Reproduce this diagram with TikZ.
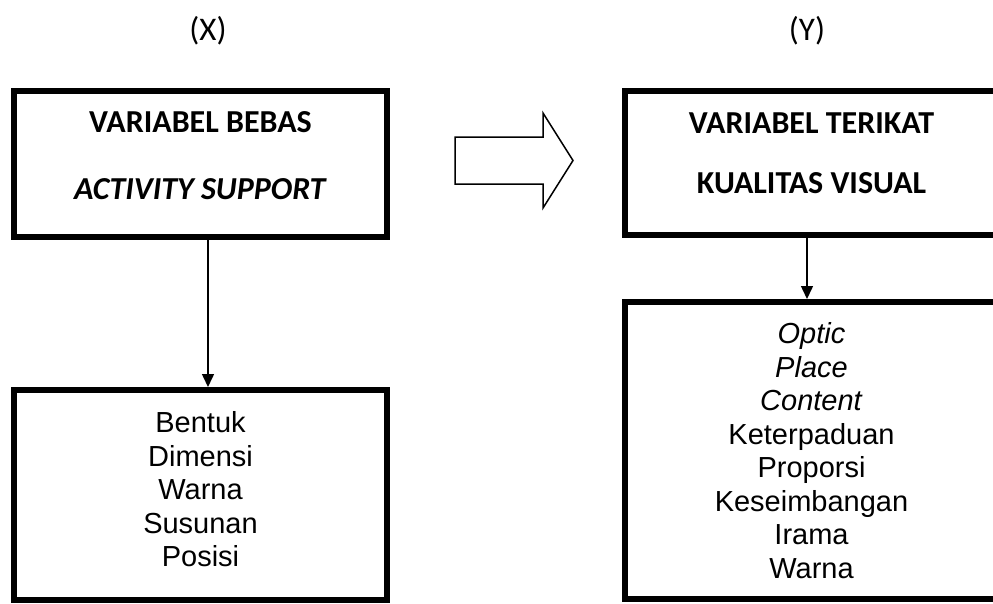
\documentclass[tikz,border=0pt]{standalone}
\usepackage{fontspec}
\setmainfont{Liberation Sans}
\newfontfamily\calibri{Carlito}
\usetikzlibrary{arrows.meta,positioning}

\begin{document}
\begin{tikzpicture}[x=1pt,y=-1pt,
    varbox/.style={draw, line width=6pt, minimum width=373pt, inner sep=0pt, align=center},
    itemtext/.style={font=\fontsize{29}{33.5}\selectfont},
    flow/.style={-{Triangle[width=12pt,length=13pt]}, line width=1.5pt}]
    \useasboundingbox (0,0) rectangle (993,603);
    \clip (0,0) rectangle (993,603);
    % variable labels
    \node[font=\calibri\fontsize{33}{40}\selectfont] (xlabel) at (208,31) {(X)};
    \node[font=\calibri\fontsize{33}{40}\selectfont] (ylabel) at (807,31) {(Y)};
    % independent variable
    \node[varbox, minimum height=146pt, text depth=16pt,
      font=\calibri\bfseries\fontsize{32}{67}\selectfont]
      (bebas) at (200.5,164) {VARIABEL BEBAS\\\textit{ACTIVITY SUPPORT}};
    \node[varbox, minimum height=210pt, text depth=12pt, itemtext]
      (bebasitems) at (200.5,495) {Bentuk\\Dimensi\\Warna\\Susunan\\Posisi};
    % dependent variable
    \node[varbox, minimum height=144pt, text depth=20pt,
      font=\calibri\bfseries\fontsize{32}{60}\selectfont]
      (terikat) at (811.5,163) {VARIABEL TERIKAT\\KUALITAS VISUAL};
    \node[varbox, minimum height=297pt, itemtext]
      (terikatitems) at (811.5,450.5) {\textit{Optic}\\\textit{Place}\\\textit{Content}\\Keterpaduan\\Proporsi\\Keseimbangan\\Irama\\Warna};
    % connectors
    \draw[flow] ([xshift=7.5pt]bebas.south) -- ([xshift=7.5pt]bebasitems.north);
    \draw[flow] ([xshift=-4.5pt]terikat.south) -- ([xshift=-4.5pt]terikatitems.north);
    % block arrow X -> Y
    \draw[line width=1.5pt, line join=miter]
      (455,137) -- (543,137) -- (543,113) -- (573,160.5) -- (543,208)
      -- (543,184) -- (455,184) -- cycle;
\end{tikzpicture}
\end{document}
